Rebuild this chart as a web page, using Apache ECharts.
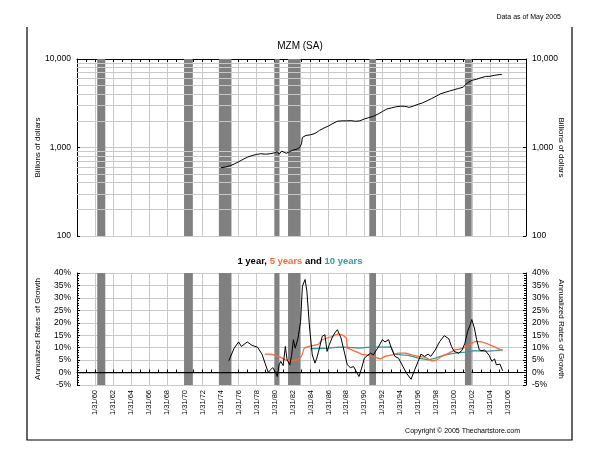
<!DOCTYPE html>
<html>
<head>
<meta charset="utf-8">
<script src="https://cdn.jsdelivr.net/npm/echarts@6/dist/echarts.min.js"></script>
<style>
html,body{margin:0;padding:0;background:#fff;}
#c{width:600px;height:466px;}
</style>
</head>
<body>
<div id="c"></div>
<script>
// ---------- DATA ----------
const recessions = [[1960.25,1961.15],[1969.92,1970.9],[1973.8,1975.2],[1980.0,1980.55],[1981.5,1982.9],[1990.55,1991.3],[2001.2,2001.95]];

const mzmYears  = [1974.0,1974.5,1975.0,1975.5,1976.0,1976.5,1977.0,1977.5,1978.0,1978.5,1979.0,1979.5,1980.0,1980.3,1980.5,1980.8,1981.0,1981.3,1981.7,1982.0,1982.5,1982.8,1983.0,1983.1,1983.5,1984.0,1984.5,1985.0,1985.5,1986.0,1986.5,1987.0,1987.5,1988.0,1988.5,1989.0,1989.5,1990.0,1990.5,1991.0,1991.5,1992.0,1992.5,1993.0,1993.5,1994.0,1994.5,1995.0,1995.5,1996.0,1996.5,1997.0,1997.5,1998.0,1998.5,1999.0,1999.5,2000.0,2000.5,2001.0,2001.5,2002.0,2002.5,2003.0,2003.5,2004.0,2004.5,2005.0,2005.3];
const mzmValues = [590,600,620,650,690,735,780,810,835,850,840,850,870,900,840,910,880,860,900,930,960,1000,1100,1300,1370,1390,1440,1560,1660,1750,1870,1980,2000,2000,2010,1980,2000,2100,2180,2250,2380,2550,2720,2800,2880,2930,2920,2840,2950,3080,3200,3380,3580,3800,4050,4200,4350,4500,4650,4800,5400,5750,5900,6150,6350,6380,6550,6650,6680];

const oneYearX = [1974.9,1975.5,1976.0,1976.3,1976.96,1977.5,1978.1,1978.6,1979.0,1979.3,1979.55,1979.8,1980.1,1980.3,1980.5,1980.7,1980.96,1981.2,1981.4,1981.7,1981.9,1982.1,1982.3,1982.6,1982.9,1983.1,1983.4,1983.6,1983.9,1984.2,1984.5,1984.7,1985.0,1985.3,1985.6,1985.85,1986.1,1986.4,1986.7,1987.0,1987.4,1987.8,1988.1,1988.44,1988.8,1989.0,1989.4,1989.7,1990.0,1990.4,1990.7,1991.0,1991.6,1992.0,1992.3,1992.7,1993.0,1993.4,1993.8,1994.2,1994.7,1995.2,1995.6,1996.0,1996.3,1996.7,1997.1,1997.4,1997.9,1998.4,1998.9,1999.4,1999.7,2000.0,2000.5,2000.85,2001.2,2001.5,2001.8,2001.96,2002.25,2002.5,2002.8,2003.1,2003.4,2003.6,2003.9,2004.2,2004.5,2004.7,2005.1,2005.4];
const oneYearY = [4.7,9.8,12.3,10.5,12.3,10.9,10.2,7.4,3.1,0.1,1.1,2.0,0.1,-1.6,3.1,4.5,2.8,10.5,5.1,3.1,6.9,13.2,9.8,13.6,20.6,34.7,37.4,32.7,17.9,7.1,3.8,5.8,9.8,14.5,15.2,8.5,11.2,13.9,15.9,17.2,13.9,7.8,3.1,2.0,2.4,1.8,-1.6,1.8,5.8,7.0,7.8,7.1,10.5,13.2,12.3,13.2,9.8,6.5,5.8,3.1,-0.3,-2.7,1.1,4.5,7.4,6.5,7.4,6.5,9.1,12.5,14.8,13.6,10.5,8.5,7.8,8.8,11.8,16.6,19.3,21.3,17.9,13.2,9.1,8.8,9.1,8.5,6.9,4.5,5.5,3.1,3.4,0.7];

const fiveYearX = [1978.9,1979.55,1980.1,1980.7,1981.2,1981.8,1982.5,1983.0,1983.3,1983.8,1984.4,1984.9,1985.3,1985.85,1986.4,1987.0,1987.5,1988.0,1988.1,1988.6,1989.2,1989.7,1990.5,1991.2,1991.8,1992.3,1993.1,1993.8,1994.6,1995.3,1996.0,1996.8,1997.5,1998.1,1998.6,1999.4,2000.1,2000.85,2001.6,2002.3,2003.1,2003.8,2004.6,2005.4];
const fiveYearY = [7.4,7.4,6.9,6.1,5.1,4.7,5.1,6.5,9.8,10.5,10.9,11.4,13.2,13.9,14.5,15.5,15.2,13.9,9.8,9.1,8.2,7.4,6.9,6.1,5.5,6.5,7.1,7.8,7.8,7.1,6.5,6.1,4.7,5.1,6.5,7.8,9.1,9.6,10.9,12.5,12.3,11.4,10.1,8.8];

const tenYearX = [1984.0,1984.9,1986.0,1987.1,1988.3,1989.4,1990.3,1991.2,1992.3,1993.0,1993.3,1994.2,1994.9,1996.0,1997.15,1997.9,1999.0,2000.1,2001.2,2002.3,2003.4,2004.6,2005.4];
const tenYearY = [9.6,9.6,9.8,10.2,10.1,9.8,10.1,10.2,10.2,10.3,7.4,7.1,6.9,5.8,5.1,5.8,7.1,7.8,8.2,8.8,8.5,8.8,9.1];

const zeroLineX = [1958,1999];
const logGridValues = [200,300,400,500,600,700,800,900,2000,3000,4000,5000,6000,7000,8000,9000];
const pctTicks = {min:-5, max:40, interval:5};
const yearAxis = {min:1958, max:2008, interval:2};

// ---------- BUILD ----------
const zip = (xs, ys) => xs.map((x,i)=>[x, ys[i]]);
const FONT = "'Liberation Sans', Arial, sans-serif";
const GRIDC = '#c8c8c8';
const BARC = '#808080';
const ORANGE = '#ff6633';
const TEAL = '#339999';

function xAx(gridIndex, pos, showLabels){
  return {
    type:'value', gridIndex, position:pos,
    min:yearAxis.min, max:yearAxis.max, interval:yearAxis.interval,
    axisLine:{show:true, lineStyle:{color:'#000', width:1}},
    axisTick:{show:true, inside:true, length:3, lineStyle:{color:'#000'}},
    minorTick:{show:true, splitNumber:2, length:3, lineStyle:{color:'#000'}},
    splitLine:{show:true, lineStyle:{color:GRIDC, width:1}},
    axisLabel:{show:showLabels, rotate:90, fontFamily:FONT, fontSize:7.5, color:'#000', margin:5,
      formatter:v => (v===yearAxis.min||v===yearAxis.max) ? '' : '1/31/' + String(v).slice(2)},
  };
}
function recSeries(x, y){
  return {type:'line', xAxisIndex:x, yAxisIndex:y, data:[], silent:true, z:2,
    markArea:{silent:true, itemStyle:{color:BARC, opacity:1},
      data:recessions.map(r=>[{xAxis:r[0]},{xAxis:r[1]}])}};
}
const nameStyle = {fontFamily:FONT, fontSize:8, color:'#000'};

const option = {
  animation:false,
  backgroundColor:'#fff',
  title:[
    {text:'Data as of May 2005', right:34, top:9, textStyle:{fontFamily:FONT, fontSize:7, fontWeight:'normal', color:'#000'}},
    {text:'MZM (SA)', left:'center', top:36, textStyle:{fontFamily:FONT, fontSize:10, fontWeight:'normal', color:'#000'}},
    {text:'{a|1 year, }{b|5 years}{a| and }{c|10 years}', left:'center', top:251,
      textStyle:{rich:{
        a:{fontFamily:FONT, fontSize:9.5, fontWeight:'bold', color:'#000'},
        b:{fontFamily:FONT, fontSize:9.5, fontWeight:'bold', color:ORANGE},
        c:{fontFamily:FONT, fontSize:9.5, fontWeight:'bold', color:TEAL}}}},
    {text:'Copyright \u00a9 2005 Thechartstore.com', right:75, top:423, textStyle:{fontFamily:FONT, fontSize:7, fontWeight:'normal', color:'#000'}}
  ],
  graphic:[
    {type:'polyline', silent:true, shape:{points:[[27,27],[27,440],[572,440],[572,27]]}, style:{stroke:'#000', lineWidth:1.2, fill:null}}
  ],
  grid:[
    {left:77, right:74, top:59, height:177},
    {left:77, right:74, top:273, height:112}
  ],
  xAxis:[
    xAx(0,'top',false),
    xAx(1,'bottom',true)
  ],
  yAxis:[
    {type:'log', logBase:10, gridIndex:0, min:100, max:10000, position:'left',
      name:'Billions of dollars', nameLocation:'middle', nameRotate:90, nameGap:35, nameMoveOverlap:false,
      nameTextStyle:nameStyle,
      axisLine:{show:true, lineStyle:{color:'#000'}}, axisTick:{show:true, inside:true, length:3, lineStyle:{color:'#000'}},
      splitLine:{show:true, lineStyle:{color:GRIDC}},
      axisLabel:{fontFamily:FONT, fontSize:8.5, color:'#000', margin:6}},
    {type:'log', logBase:10, gridIndex:0, min:100, max:10000, position:'right',
      name:'Billions of dollars', nameLocation:'middle', nameRotate:-90, nameGap:31, nameMoveOverlap:false,
      nameTextStyle:nameStyle,
      axisLine:{show:true, lineStyle:{color:'#000'}}, axisTick:{show:true, inside:true, length:3, lineStyle:{color:'#000'}},
      splitLine:{show:false},
      axisLabel:{fontFamily:FONT, fontSize:8.5, color:'#000', margin:6}},
    {type:'value', gridIndex:1, min:pctTicks.min, max:pctTicks.max, interval:pctTicks.interval, position:'left',
      name:'Annualized Rates  of Growth', nameLocation:'middle', nameRotate:90, nameGap:35, nameMoveOverlap:false,
      nameTextStyle:nameStyle,
      axisLine:{show:true, lineStyle:{color:'#000'}}, axisTick:{show:true, inside:true, length:3, lineStyle:{color:'#000'}},
      minorTick:{show:true, splitNumber:5, length:2, lineStyle:{color:'#000'}},
      splitLine:{show:true, lineStyle:{color:GRIDC}},
      axisLabel:{fontFamily:FONT, fontSize:8.5, color:'#000', margin:6, formatter:v=>v+'%'}},
    {type:'value', gridIndex:1, min:pctTicks.min, max:pctTicks.max, interval:pctTicks.interval, position:'right',
      name:'Annualized Rates of Growth', nameLocation:'middle', nameRotate:-90, nameGap:31, nameMoveOverlap:false,
      nameTextStyle:nameStyle,
      axisLine:{show:true, lineStyle:{color:'#000'}}, axisTick:{show:true, inside:true, length:3, lineStyle:{color:'#000'}},
      minorTick:{show:true, splitNumber:5, length:2, lineStyle:{color:'#000'}},
      splitLine:{show:false},
      axisLabel:{fontFamily:FONT, fontSize:8.5, color:'#000', margin:6, formatter:v=>v+'%'}}
  ],
  series:[
    {type:'line', xAxisIndex:0, yAxisIndex:0, data:[], silent:true, z:1,
      markLine:{silent:true, symbol:'none', label:{show:false}, lineStyle:{color:GRIDC, type:'solid', width:1},
        data:logGridValues.map(v=>({yAxis:v}))}},
    recSeries(0,0),
    recSeries(1,2),
    {name:'MZM', type:'line', xAxisIndex:0, yAxisIndex:0, z:5, showSymbol:false, symbol:'none',
      lineStyle:{color:'#000', width:1}, data:zip(mzmYears, mzmValues)},
    {name:'zero', type:'line', xAxisIndex:1, yAxisIndex:2, z:4, symbol:'none',
      lineStyle:{color:'#000', width:1.3}, data:zeroLineX.map(x=>[x,0])},
    {name:'10 years', type:'line', xAxisIndex:1, yAxisIndex:2, z:5, symbol:'none',
      lineStyle:{color:TEAL, width:1.2}, data:zip(tenYearX, tenYearY)},
    {name:'5 years', type:'line', xAxisIndex:1, yAxisIndex:2, z:6, symbol:'none',
      lineStyle:{color:ORANGE, width:1.2}, data:zip(fiveYearX, fiveYearY)},
    {name:'1 year', type:'line', xAxisIndex:1, yAxisIndex:2, z:7, symbol:'none',
      lineStyle:{color:'#000', width:1}, data:zip(oneYearX, oneYearY)}
  ]
};
const chart = echarts.init(document.getElementById('c'), null, {renderer:'canvas'});
chart.setOption(option);
</script>
</body>
</html>
